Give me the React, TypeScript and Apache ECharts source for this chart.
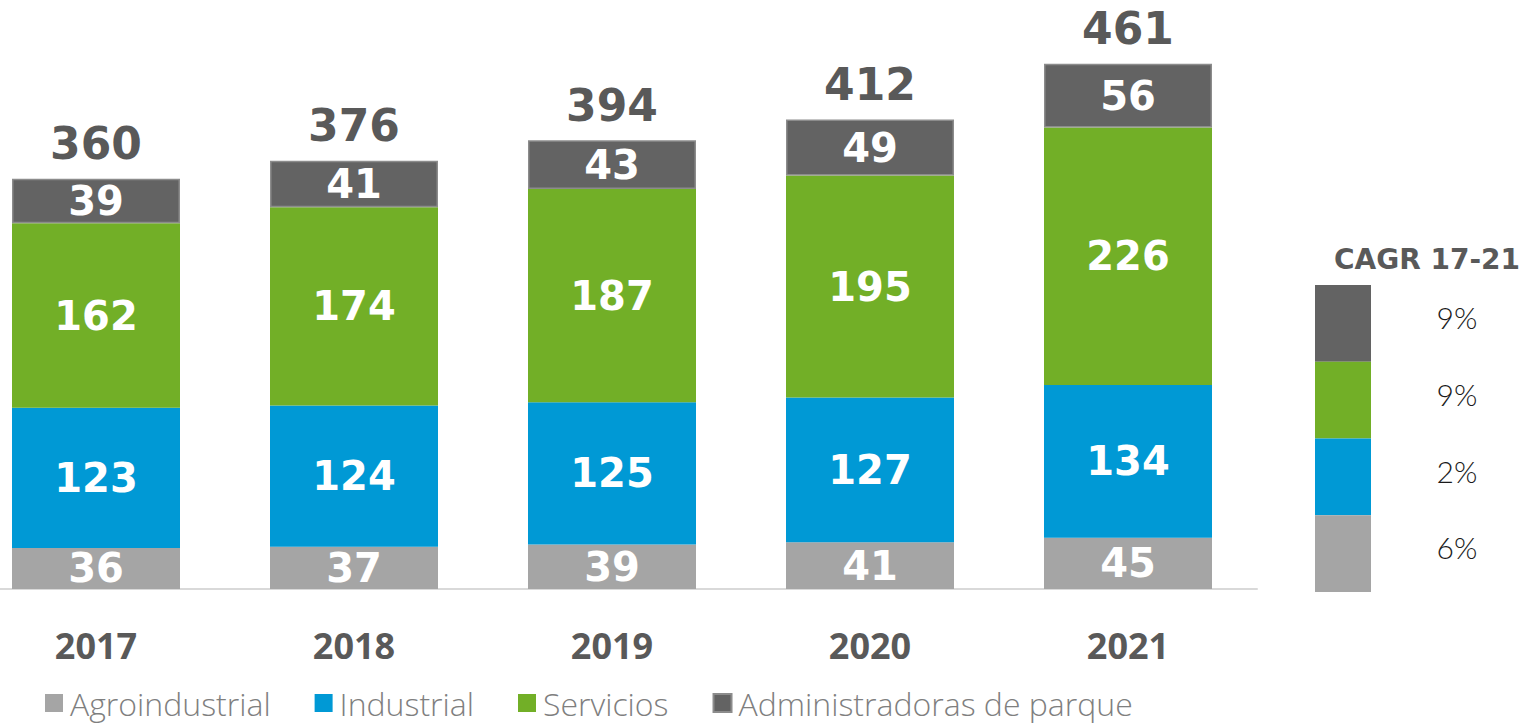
import React, { useEffect, useRef } from "react";
import * as echarts from "echarts";

const years = ["2017", "2018", "2019", "2020", "2021"];
const agro = [36, 37, 39, 41, 45];
const industrial = [123, 124, 125, 127, 134];
const servicios = [162, 174, 187, 195, 226];
const admin = [39, 41, 43, 49, 56];
const totals = [360, 376, 394, 412, 461];
const cagrLabels = ["9%", "9%", "2%", "6%"]; // admin, servicios, industrial, agro

const C_AGRO = "#A5A5A5";
const C_IND = "#0099D5";
const C_SERV = "#72AF27";
const C_ADMIN = "#636363";

const NUM_FONT = "'DejaVu Sans', sans-serif";

export default function App() {
  const ref = useRef<HTMLDivElement>(null);
  useEffect(() => {
    document.body.style.margin = "0";
    const chart = echarts.init(ref.current!, null, { renderer: "svg" });
    const inner = {
      show: true,
      position: "inside",
      color: "#ffffff",
      fontFamily: NUM_FONT,
      fontWeight: "bold",
      fontSize: 40,
    };
    const mk = (name: string, data: number[], color: string, extra: any = {}) => ({
      name,
      type: "bar",
      stack: "a",
      barWidth: 168,
      data,
      itemStyle: { color, ...extra },
      label: inner,
      emphasis: { disabled: true },
    });
    const cagrColors = [C_ADMIN, C_SERV, C_IND, C_AGRO];
    const graphics: any[] = [
      {
        type: "text",
        left: 1334,
        top: 245,
        style: {
          text: "CAGR 17-21",
          fill: "#595959",
          font: `bold 28px ${NUM_FONT}`,
        },
      },
    ];
    cagrColors.forEach((c, i) => {
      graphics.push({
        type: "rect",
        shape: { x: 1315, y: 285 + i * 76.75, width: 56, height: 76.75 },
        style: { fill: c },
      });
      graphics.push({
        type: "text",
        x: 1457,
        y: 285 + i * 76.75 + 32,
        style: {
          text: cagrLabels[i],
          fill: "#1a1a1a",
          font: "300 30px Lato, sans-serif",
          textAlign: "center",
          textVerticalAlign: "middle",
        },
      });
    });
    chart.setOption({
      animation: false,
      grid: { left: -33, right: 265, top: 0, bottom: 139, outerBoundsMode: "none" },
      xAxis: {
        type: "category",
        data: years,
        axisLine: { show: true, lineStyle: { color: "#D9D9D9", width: 2 } },
        axisTick: { show: false },
        axisLabel: {
          margin: 38,
          color: "#595959",
          fontFamily: "'Open Sans', sans-serif",
          fontWeight: "bold",
          fontSize: 36,
        },
      },
      yAxis: { type: "value", min: 0, max: 517, show: false, splitLine: { show: false } },
      legend: {
        data: ["Agroindustrial", "Industrial", "Servicios", "Administradoras de parque"],
        left: 40,
        top: 681,
        icon: "rect",
        itemWidth: 18,
        itemHeight: 18,
        itemGap: 44,
        textStyle: {
          color: "#7F7F7F",
          fontFamily: "'Open Sans', sans-serif",
          fontWeight: 300,
          fontSize: 32,
          lineHeight: 34,
          padding: [0, 0, 0, 2],
        },
      },
      series: [
        mk("Agroindustrial", agro, C_AGRO),
        mk("Industrial", industrial, C_IND),
        mk("Servicios", servicios, C_SERV),
        mk("Administradoras de parque", admin, C_ADMIN, { borderColor: "#8C8C8C", borderWidth: 1.5 }),
        {
          name: "Total",
          type: "bar",
          stack: "a",
          barWidth: 168,
          data: totals.map(() => 0),
          itemStyle: { color: "transparent" },
          label: {
            show: true,
            position: "top",
            distance: 13,
            color: "#595959",
            fontFamily: NUM_FONT,
            fontWeight: "bold",
            fontSize: 44,
            formatter: (p: any) => String(totals[p.dataIndex]),
          },
          emphasis: { disabled: true },
        },
      ],
      graphic: graphics,
    });
    return () => chart.dispose();
  }, []);
  return <div ref={ref} style={{ width: 1522, height: 728 }} />;
}
